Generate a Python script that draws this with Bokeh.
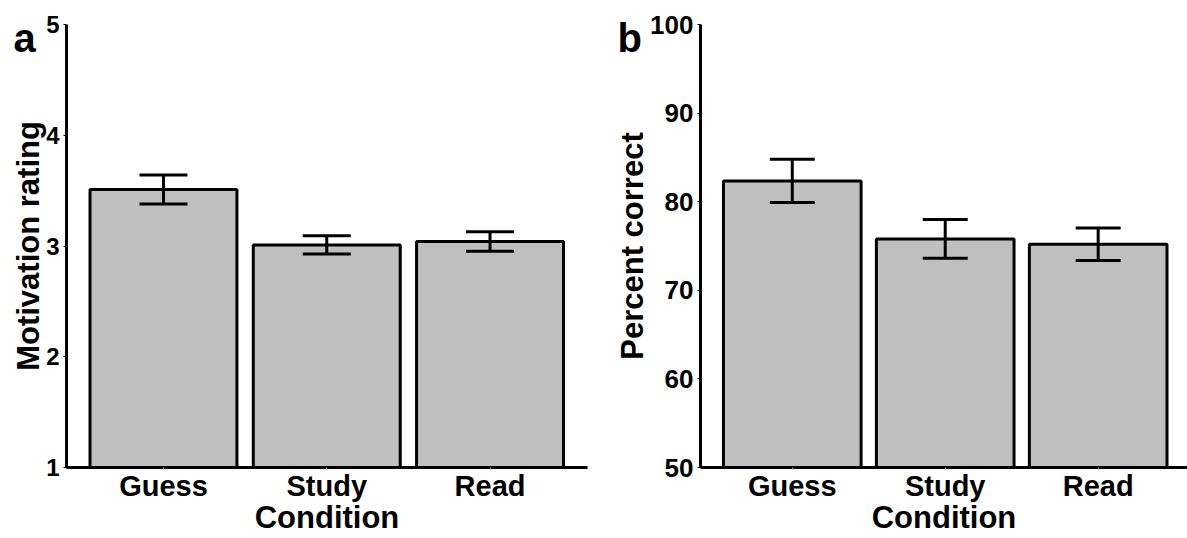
from bokeh.plotting import figure
from bokeh.layouts import row
from bokeh.models import Range1d, ColumnDataSource, Whisker, TeeHead, FixedTicker
from bokeh.embed import file_html
from bokeh.resources import INLINE

# ---- data ----
categories = ["Guess", "Study", "Read"]
motivation = [3.51, 3.01, 3.04]
motivation_se = [0.13, 0.083, 0.088]
percent = [82.35, 75.8, 75.2]
percent_se = [2.45, 2.18, 1.83]
motivation_ticks = [1, 2, 3, 4, 5]
percent_ticks = [50, 60, 70, 80, 90, 100]
x_title = "Condition"
motivation_title = "Motivation rating"
percent_title = "Percent correct"
panel_letters = ["a", "b"]

FONT = "Liberation Sans"
BAR_FILL = "#bfbfbf"


def make_panel(values, errs, ticks, ytitle, letter, width, border_left, border_right,
               x_start, x_end, head_size, tick_font, letter_offset):
    xs = [i + 1 for i in range(len(categories))]
    src = ColumnDataSource(dict(
        x=xs, top=values,
        upper=[v + e for v, e in zip(values, errs)],
        lower=[v - e for v, e in zip(values, errs)],
    ))
    p = figure(width=width, height=538, output_backend="svg", toolbar_location=None,
               x_range=Range1d(x_start, x_end), y_range=Range1d(ticks[0], ticks[-1]),
               min_border_left=border_left, min_border_right=border_right,
               min_border_top=24, min_border_bottom=71)
    p.outline_line_color = None
    p.xgrid.visible = False
    p.ygrid.visible = False
    p.background_fill_color = "white"
    p.border_fill_color = "white"

    # panel letter as the figure title, pulled down beside the y axis
    p.title.text = letter
    p.title.align = "left"
    p.title.offset = letter_offset
    p.title.standoff = -71
    p.title.text_font = FONT
    p.title.text_font_style = "bold"
    p.title.text_font_size = "40px"
    p.title.text_color = "black"

    p.vbar(x="x", top="top", bottom=ticks[0], width=0.9, source=src,
           fill_color=BAR_FILL, line_color="black", line_width=3)

    wh = Whisker(source=src, base="x", upper="upper", lower="lower", dimension="height",
                 line_color="black", line_width=3, level="annotation",
                 upper_head=TeeHead(size=head_size, line_color="black", line_width=3),
                 lower_head=TeeHead(size=head_size, line_color="black", line_width=3))
    p.add_layout(wh)

    # x axis
    xa = p.xaxis[0]
    xa.ticker = FixedTicker(ticks=xs)
    xa.major_label_overrides = {x: c for x, c in zip(xs, categories)}
    xa.axis_line_width = 3
    xa.axis_line_color = "black"
    xa.major_tick_in = 0
    xa.major_tick_out = 2
    xa.major_tick_line_width = 1
    xa.major_tick_line_color = "#999999"
    xa.minor_tick_line_color = None
    xa.major_label_text_font = FONT
    xa.major_label_text_font_style = "bold"
    xa.major_label_text_font_size = "29px"
    xa.major_label_text_color = "black"
    xa.major_label_standoff = 0
    xa.axis_label = x_title
    xa.axis_label_text_font = FONT
    xa.axis_label_text_font_style = "bold"
    xa.axis_label_text_font_size = "31px"
    xa.axis_label_text_color = "black"
    xa.axis_label_standoff = -5

    # y axis
    ya = p.yaxis[0]
    ya.ticker = FixedTicker(ticks=ticks)
    ya.axis_line_width = 3
    ya.axis_line_color = "black"
    ya.major_tick_in = 0
    ya.major_tick_out = 3
    ya.major_tick_line_width = 1
    ya.minor_tick_line_color = None
    ya.major_label_text_font = FONT
    ya.major_label_text_font_style = "bold"
    ya.major_label_text_font_size = tick_font
    ya.major_label_text_color = "black"
    ya.major_label_standoff = 4
    ya.axis_label = ytitle
    ya.axis_label_text_font = FONT
    ya.axis_label_text_font_style = "bold"
    ya.axis_label_text_font_size = "31px"
    ya.axis_label_text_color = "black"
    ya.axis_label_standoff = -3
    return p


p1 = make_panel(motivation, motivation_se, motivation_ticks, motivation_title, panel_letters[0],
                width=590, border_left=66, border_right=3, x_start=0.406, x_end=3.597,
                head_size=48, tick_font="24px", letter_offset=-53)
p2 = make_panel(percent, percent_se, percent_ticks, percent_title, panel_letters[1],
                width=597, border_left=110, border_right=0, x_start=0.4, x_end=3.584,
                head_size=45, tick_font="26px", letter_offset=-83)

layout = row(p1, p2)
open("out.html", "w").write(file_html(layout, INLINE))
